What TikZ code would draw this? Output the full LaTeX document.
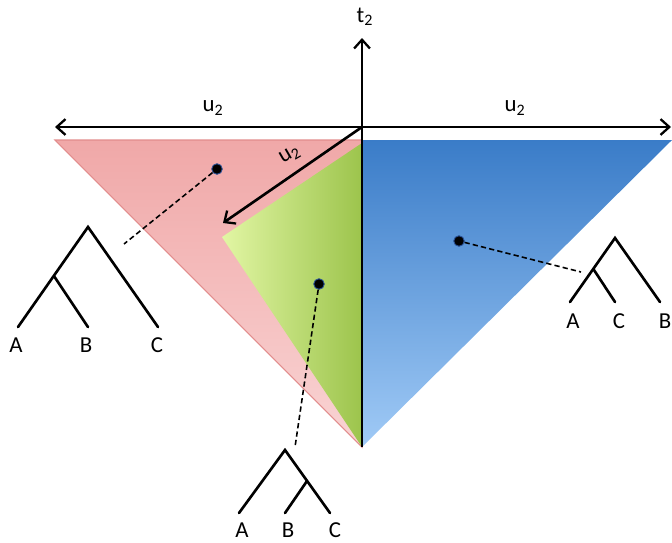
\documentclass[tikz,border=0pt]{standalone}
\usepackage{fontspec}
\setmainfont{Carlito}
\usetikzlibrary{arrows.meta}
\definecolor{rosaoben}{RGB}{240,168,168}
\definecolor{rosaunten}{RGB}{249,212,212}
\definecolor{rosarand}{RGB}{226,140,140}
\definecolor{blauoben}{RGB}{58,124,200}
\definecolor{blauunten}{RGB}{160,202,246}
\definecolor{gruenlinks}{RGB}{226,246,164}
\definecolor{gruenrechts}{RGB}{156,196,76}
\definecolor{punktrand}{RGB}{40,80,150}

\begin{document}
\begin{tikzpicture}
     [x=0.02cm, y=-0.02cm,
     blatt/.style = {font=\fontsize{13}{15}\selectfont, inner sep=1pt},
     ast/.style = {line width=1.5pt, line cap=round},
     achse/.style = {line width=1.5pt},
     verbind/.style = {dash pattern=on 3pt off 1.8pt, line width=0.9pt},
     punkt/.style = {circle, fill=black, draw=punktrand, line width=0.5pt, inner sep=0pt, minimum size=6pt},
     >={Straight Barb[length=5pt,width=9pt,line width=1.3pt]}
     ]

     \useasboundingbox (0,0) rectangle (672,542);

     % Dreiecke
     \shade[top color=rosaoben, bottom color=rosaunten] (55,140) -- (362,140) -- (362,447) -- cycle;
     \draw[rosarand, line width=0.6pt] (55,140) -- (362,140) -- (362,447) -- cycle;
     \shade[top color=blauoben, bottom color=blauunten] (362,140) -- (672,140) -- (362,447) -- cycle;
     \shade[left color=gruenlinks, right color=gruenrechts] (362,143) -- (222,237) -- (362,447) -- cycle;

     % Achsen
     \coordinate (o) at (362,127);
     \coordinate (spitze) at (362,447);
     \coordinate (links) at (55,127);
     \coordinate (rechts) at (671,127);
     \coordinate (oben) at (362,38);
     \coordinate (diag) at (223,223);
     \draw[achse,->] (spitze) -- (oben);
     \draw[achse,<->] (links) -- (rechts);
     \draw[achse,->] (o) -- (diag);

     \path (365,17) node[blatt] (t) {t\textsubscript{2}}
           (213,108) node[blatt] (ul) {u\textsubscript{2}}
           (515,108) node[blatt] (ur) {u\textsubscript{2}}
           (290,155) node[blatt,rotate=30] (ud) {u\textsubscript{2}};

     % Punkte
     \path (217,169) node[punkt] (pr) {}
           (319,284) node[punkt] (pg) {}
           (459,241) node[punkt] (pb) {};
     \coordinate (er) at (124,244);
     \coordinate (eg) at (295,447);
     \coordinate (eb) at (581,272);
     \draw[verbind] (pr) -- (er);
     \draw[verbind] (pg) -- (eg);
     \draw[verbind] (pb) -- (eb);

     % Baum links ((A,B),C)
     \coordinate (lw) at (88,227);
     \coordinate (lk) at (54,276);
     \coordinate (la) at (18,327);
     \coordinate (lb) at (88,327);
     \coordinate (lc) at (158,327);
     \draw[ast] (la) -- (lw) -- (lc);
     \draw[ast] (lk) -- (lb);
     \path (16,345) node[blatt] (lA) {A}
           (86,345) node[blatt] (lB) {B}
           (157,345) node[blatt] (lC) {C};

     % Baum rechts ((A,C),B)
     \coordinate (rw) at (615,238);
     \coordinate (rk) at (594,270);
     \coordinate (ra) at (570,302);
     \coordinate (rc) at (615,302);
     \coordinate (rb) at (660,302);
     \draw[ast] (ra) -- (rw) -- (rb);
     \draw[ast] (rk) -- (rc);
     \path (573,321) node[blatt] (rA) {A}
           (619,321) node[blatt] (rC) {C}
           (665,321) node[blatt] (rB) {B};

     % Baum unten (A,(B,C))
     \coordinate (uw) at (285,450);
     \coordinate (uk) at (307,481);
     \coordinate (ua) at (239,513);
     \coordinate (ub) at (285,513);
     \coordinate (uc) at (330,513);
     \draw[ast] (ua) -- (uw) -- (uc);
     \draw[ast] (uk) -- (ub);
     \path (242,530) node[blatt] (uA) {A}
           (288,530) node[blatt] (uB) {B}
           (335,530) node[blatt] (uC) {C};
\end{tikzpicture}
\end{document}
